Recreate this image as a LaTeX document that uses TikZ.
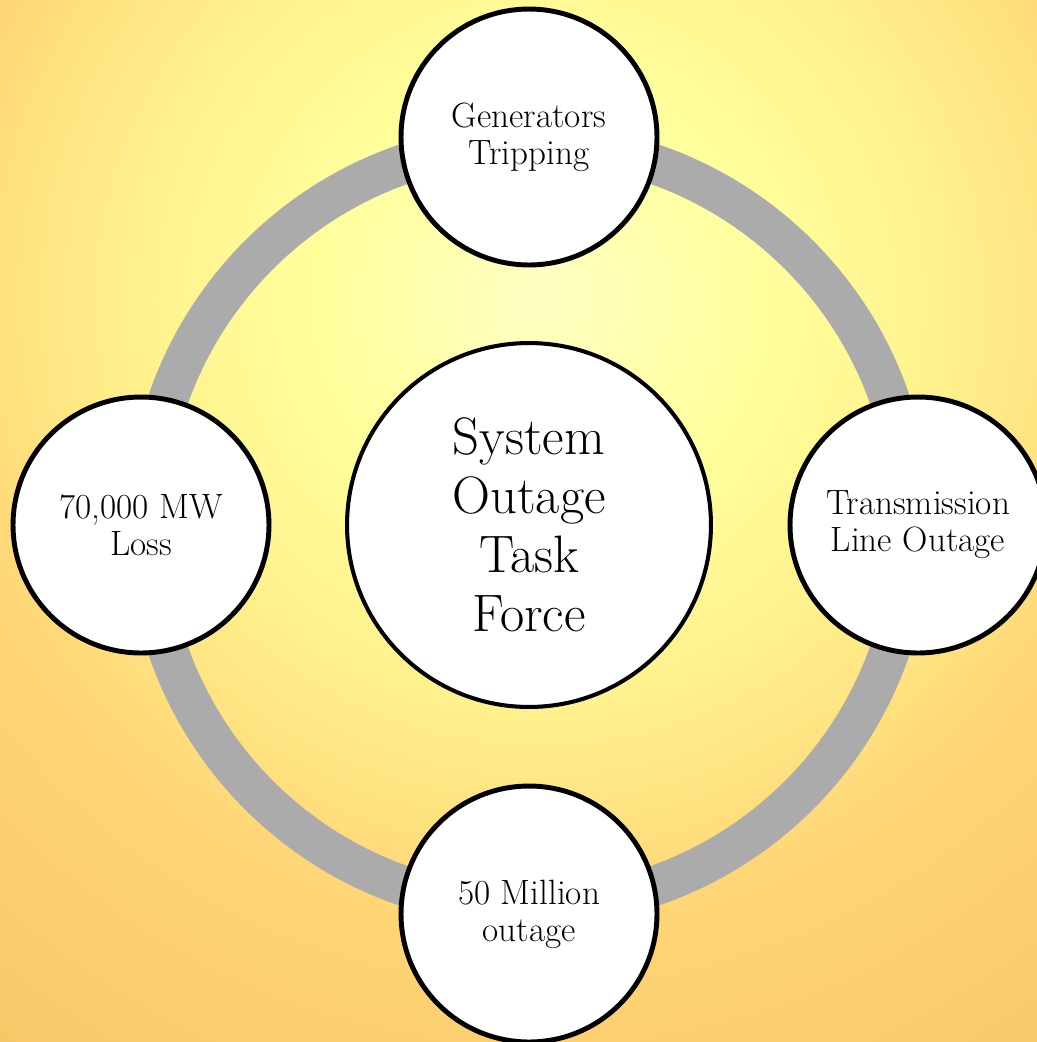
\documentclass[tikz,border=0pt]{standalone}
\usepackage{tikz}

\definecolor{bgcore}{HTML}{FFFFC4}
\definecolor{bgmid}{HTML}{FFFF9C}
\definecolor{bglight}{HTML}{FFF08C}
\definecolor{bgedge}{HTML}{FFD677}
\definecolor{bgcorner}{HTML}{F7C768}
\definecolor{ringgray}{HTML}{ABABAB}

\pgfdeclareradialshading{glow}{\pgfpointorigin}{color(0bp)=(bgcore); color(7bp)=(bgmid); color(13bp)=(bglight); color(19bp)=(bgedge); color(29bp)=(bgcorner); color(50bp)=(bgcorner)}

\begin{document}
\begin{tikzpicture}[x=0.02cm, y=-0.02cm,
    leaf/.style={circle, draw=black, line width=2.8pt, fill=white, minimum size=5.12cm,
                 inner sep=0pt, align=center, font=\fontsize{20}{21}\selectfont},
    hub/.style={circle, draw=black, line width=2.3pt, fill=white, minimum size=7.28cm,
                inner sep=0pt, align=center, font=\fontsize{30}{33.5}\selectfont}]
             \useasboundingbox (0,0) rectangle (1037,1042);
             \clip (0,0) rectangle (1037,1042);
             \shade[shading=glow] (-260,-500) rectangle (1340,1100);

             \coordinate (mid) at (529,525);
             \draw[ringgray, line width=0.8cm] (mid) circle (7.64cm);

             \node[hub] (core) at (mid) {System\\Outage\\Task\\Force};
             \node[leaf] (gen) at (529,137) {Generators\\Tripping};
             \node[leaf] (line) at (918,525) {Transmission\\Line Outage};
             \node[leaf] (cust) at (529,914) {50 Million\\outage};
             \node[leaf] (loss) at (141,525) {70,000 MW\\Loss};
             \end{tikzpicture}
\end{document}
